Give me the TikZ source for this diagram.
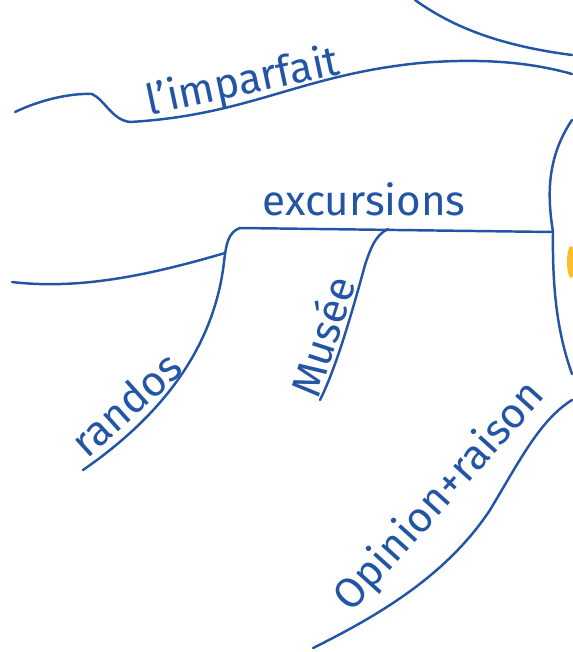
\documentclass[tikz,border=0pt]{standalone}
\usepackage{fontspec}
\setmainfont{Fira Sans}
\usetikzlibrary{positioning}
\definecolor{ink}{RGB}{35,85,165}
\definecolor{marker}{RGB}{250,190,45}

\begin{document}
\begin{tikzpicture}[x=0.02cm,y=-0.02cm,line join=round,
  branch/.style={draw=ink,line width=1.4pt,line cap=round},
  word/.style={text=ink,inner sep=0pt,font=\fontsize{24}{28}\selectfont}]
\useasboundingbox (0,0) rectangle (572,652);
%%
\coordinate (top_0) at (415,0);
  \coordinate (top_1) at (572,55);
  \coordinate (imp_0) at (15,112);
  \coordinate (imp_1) at (92,94);
  \coordinate (imp_2) at (130,122);
  \coordinate (imp_3) at (420,63);
  \coordinate (imp_4) at (572,74);
  \coordinate (exc_0) at (240,228);
  \coordinate (exc_1) at (553,232);
  \coordinate (exc_left) at (12,282);
  \coordinate (exc_join) at (225,253);
  \coordinate (ran_0) at (224,262);
  \coordinate (ran_1) at (83,470);
  \coordinate (mus_0) at (388,229);
  \coordinate (mus_1) at (365,265);
  \coordinate (mus_2) at (320,400);
  \coordinate (rim_0) at (572,120);
  \coordinate (rim_1) at (572,374);
  \coordinate (opi_0) at (313,648);
  \coordinate (opi_1) at (490,510);
  \coordinate (opi_2) at (572,400);
  \node (node_imp) at (243,83) [word,rotate=12] {l'imparfait};
  \node (node_exc) at (364,199) [word] {excursions};
  \node (node_ran) at (126,404) [word,rotate=42] {randos};
  \node (node_mus) at (322,336) [word,rotate=72] {Musée};
  \node (node_opi) at (440,497) [word,rotate=48] {Opinion+raison};
  \draw [branch] (top_0) ..controls (450,25) and (495,45)  .. (top_1);
  \draw [branch] (imp_0) ..controls (40,100) and (70,93)  .. (imp_1);
  \draw [branch] (imp_1) ..controls (105,100) and (112,120)  .. (imp_2);
  \draw [branch] (imp_2) ..controls (250,115) and (300,75)  .. (imp_3);
  \draw [branch] (imp_3) ..controls (480,58) and (530,62)  .. (imp_4);
  \draw [branch] (exc_0) -- (exc_1);
  \draw [branch] (exc_left) ..controls (80,290) and (150,275)  .. (exc_join);
  \draw [branch] (exc_0) ..controls (228,232) and (226,245)  .. (ran_0);
  \draw [branch] (ran_0) ..controls (215,340) and (170,410)  .. (ran_1);
  \draw [branch] (mus_0) ..controls (375,235) and (370,250)  .. (mus_1);
  \draw [branch] (mus_1) ..controls (350,320) and (335,370)  .. (mus_2);
  \draw [branch] (rim_0) ..controls (545,160) and (548,200)  .. (exc_1);
  \draw [branch] (exc_1) ..controls (552,300) and (560,340)  .. (rim_1);
  \draw [branch] (opi_0) ..controls (390,610) and (450,570)  .. (opi_1);
  \draw [branch] (opi_1) ..controls (520,460) and (540,420)  .. (opi_2);
  \fill [marker] (571,262) ellipse (4 and 16);
%
\end{tikzpicture}
\end{document}
